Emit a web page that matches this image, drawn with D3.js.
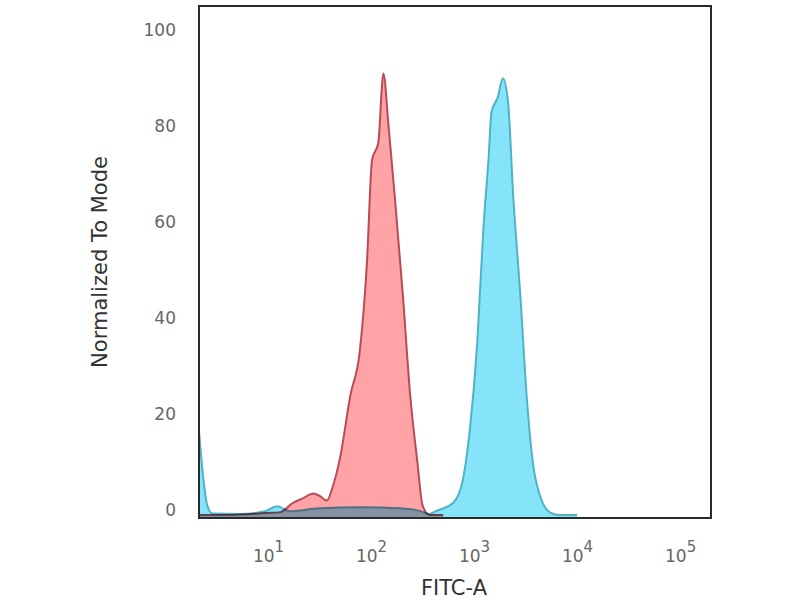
<!DOCTYPE html>
<html>
<head>
<meta charset="utf-8">
<script src="https://cdn.jsdelivr.net/npm/d3@7"></script>
<style>
  body { margin: 0; background: #fff; }
  svg { display: block; }
</style>
</head>
<body>
<svg id="chart" width="800" height="600"></svg>
<script>
// histogram bins: x as log10(FITC-A), y as % of mode
const redLogX = [0.33, 0.6, 0.83, 0.97, 1.12, 1.24, 1.34, 1.44, 1.50, 1.57, 1.63, 1.70, 1.80, 1.89, 1.96, 2.01, 2.07, 2.12, 2.17, 2.23, 2.31, 2.38, 2.45, 2.50, 2.57, 2.7];
const redY    = [0, 0, 0.2, 0.4, 0.6, 2.5, 3.5, 4.5, 4.0, 3.0, 6, 12, 25, 34, 52.5, 74, 77.5, 92, 81, 66.5, 45.5, 25, 11, 2, 0, 0];

const blueLogX = [0.33, 0.37, 0.41, 0.46, 0.73, 0.97, 1.09, 1.21, 1.5, 1.9, 2.28, 2.48, 2.56, 2.64, 2.80, 2.89, 2.96, 3.03, 3.09, 3.14, 3.17, 3.23, 3.28, 3.33, 3.38, 3.45, 3.51, 3.57, 3.64, 3.74, 3.83, 4.0];
const blueY    = [17.5, 8, 2, 0.3, 0.2, 0.8, 1.8, 0.8, 1.4, 1.6, 1.4, 0.8, 0.2, 0.9, 2.6, 7.2, 18, 35.5, 59.5, 74, 84, 87, 91, 86, 66.5, 45.5, 25, 11, 4, 0.5, 0, 0];

const yTicks = [0, 20, 40, 60, 80, 100];
const xTickExp = [1, 2, 3, 4, 5];
const xTitle = "FITC-A";
const yTitle = "Normalized To Mode";

const svg = d3.select("#chart");
const pLeft = 199, pRight = 711, pTop = 6, pBottom = 518;

const x = d3.scaleLog()
    .domain([Math.pow(10, 0.33), Math.pow(10, 5.3)])
    .range([pLeft, pRight]);
const y = d3.scaleLinear()
    .domain([0, 100])
    .range([515, 35]);

svg.append("defs").append("clipPath").attr("id", "plotclip")
    .append("rect")
    .attr("x", pLeft).attr("y", pTop)
    .attr("width", pRight - pLeft).attr("height", pBottom - pTop);

const area = d3.area()
    .x(d => x(Math.pow(10, d[0])))
    .y0(pBottom)
    .y1(d => y(d[1]))
    .curve(d3.curveMonotoneX);
const line = d3.line()
    .x(d => x(Math.pow(10, d[0])))
    .y(d => y(d[1]))
    .curve(d3.curveMonotoneX);

const redData = redLogX.map((v, i) => [v, redY[i]]);
const blueData = blueLogX.map((v, i) => [v, blueY[i]]);

const plot = svg.append("g").attr("clip-path", "url(#plotclip)");

plot.append("path")
    .datum(redData)
    .attr("d", area)
    .attr("fill", "#ffa3a6");
plot.append("path")
    .datum(redData)
    .attr("d", line)
    .attr("fill", "none")
    .attr("stroke", "#b94b56")
    .attr("stroke-width", 2);

const blueG = plot.append("g").style("mix-blend-mode", "multiply");
blueG.append("path")
    .datum(blueData)
    .attr("d", area)
    .attr("fill", "#86e4fa");
blueG.append("path")
    .datum(blueData)
    .attr("d", line)
    .attr("fill", "none")
    .attr("stroke", "#4fb2c6")
    .attr("stroke-width", 2);

// frame
svg.append("rect")
    .attr("x", pLeft).attr("y", pTop)
    .attr("width", pRight - pLeft).attr("height", pBottom - pTop)
    .attr("fill", "none")
    .attr("stroke", "#2a2a2a")
    .attr("stroke-width", 2);

// y axis
const yAxis = svg.append("g")
    .attr("transform", `translate(${pLeft},0)`)
    .call(d3.axisLeft(y).tickValues(yTicks).tickSize(0).tickPadding(23));
yAxis.select(".domain").remove();
yAxis.selectAll("text")
    .attr("dy", "0.05em")
    .style("font-family", "DejaVu Sans, Verdana, sans-serif")
    .style("font-size", "17px")
    .style("fill", "#666");

// x axis
const xAxis = svg.append("g")
    .attr("transform", `translate(0,${pBottom})`)
    .call(d3.axisBottom(x).tickValues(xTickExp.map(e => Math.pow(10, e))).tickSize(0));
xAxis.select(".domain").remove();
xAxis.selectAll("text")
    .attr("y", 44)
    .attr("dy", null)
    .style("font-family", "DejaVu Sans, Verdana, sans-serif")
    .style("font-size", "17px")
    .style("fill", "#666")
    .text(null)
    .each(function(d) {
        const t = d3.select(this);
        t.append("tspan").text("10");
        t.append("tspan").attr("dy", -10).style("font-size", "15px").text(Math.round(Math.log10(d)));
    });

// titles
svg.append("text")
    .attr("x", 454).attr("y", 595)
    .attr("text-anchor", "middle")
    .style("font-family", "DejaVu Sans, Verdana, sans-serif")
    .style("font-size", "21px")
    .style("fill", "#333")
    .text(xTitle);

svg.append("text")
    .attr("transform", "translate(107,262) rotate(-90)")
    .attr("text-anchor", "middle")
    .style("font-family", "DejaVu Sans, Verdana, sans-serif")
    .style("font-size", "21px")
    .style("fill", "#333")
    .text(yTitle);
</script>
</body>
</html>
